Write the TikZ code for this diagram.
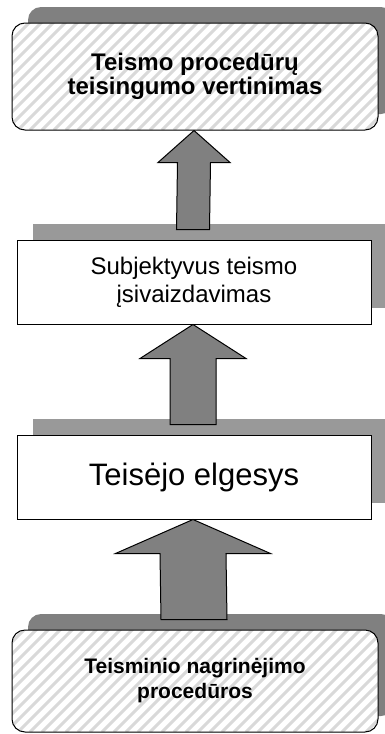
\documentclass[tikz,border=0pt]{standalone}
\usepackage{fontspec}
\setmainfont{Liberation Sans}
\usetikzlibrary{calc,shadows}
\definecolor{shadowdark}{gray}{0.5}
\definecolor{shadowlight}{gray}{0.6}
\definecolor{hatchgray}{gray}{0.85}
\definecolor{arrowgray}{gray}{0.5}
\tikzset{
	plainbox/.style={draw=black,line width=1pt,fill=white,align=center,inner sep=0pt,
		minimum width=354pt,minimum height=84pt,
		drop shadow={shadow xshift=16pt,shadow yshift=16pt,fill=shadowlight,opacity=1}},
	hatchbox/.style={draw=black,line width=1pt,fill=white,align=center,inner sep=0pt,
		rounded corners=13pt,minimum width=366pt,
		drop shadow={shadow xshift=16pt,shadow yshift=16pt,fill=shadowdark,opacity=1},
		path picture={\foreach \k in {-150,-138,...,380}
			\draw[hatchgray,line width=3pt] ([xshift=\k pt]path picture bounding box.south west) -- ++(160,-160);}},
	bigarrow/.style={draw=black,line width=1pt,fill=arrowgray,line join=miter}
}
\begin{document}
\begin{tikzpicture}[x=1pt,y=-1pt]
	\useasboundingbox (0,0) rectangle (384,734);
	% laukeliai
	\node[hatchbox,minimum height=107pt,font=\bfseries\fontsize{24}{24}\selectfont] (vert) at (195,76.5) {Teismo procedūrų\\teisingumo vertinimas};
	\node[plainbox,font=\fontsize{24}{28}\selectfont] (subj) at (194,282) {Subjektyvus teismo\\įsivaizdavimas};
	\node[plainbox,font=\fontsize{31}{31}\selectfont] (elg) at (194,477) {Teisėjo elgesys};
	\node[hatchbox,minimum height=102pt,font=\bfseries\fontsize{21}{25}\selectfont] (proc) at (195,681) {Teisminio nagrinėjimo\\procedūros};
	% rodyklės
	\foreach \src/\dst/\hl/\hw/\sw in {subj/vert/32/36/16.5,elg/subj/34/53/23,proc/elg/34/77.5/33}{
		\coordinate (t) at ($(\dst.south)+(-1,0)$);
		\coordinate (b) at ($(\src.north)+(-1,-10)$);
		\draw[bigarrow] (t) -- ++(\hw,\hl) -- ++({\sw-\hw},0) -- ($(b)+(\sw,0)$)
			-- ($(b)+(-\sw,0)$) -- ($(t)+(-\sw,\hl)$) -- ++({\sw-\hw},0) -- cycle;
	}
\end{tikzpicture}
\end{document}
